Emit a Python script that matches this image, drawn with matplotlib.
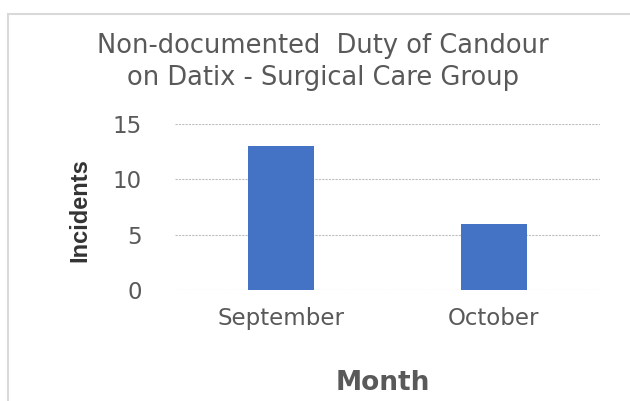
import matplotlib
matplotlib.use("Agg")
import matplotlib.pyplot as plt
from matplotlib.patches import Rectangle

months = ["September", "October"]
incidents = [13, 6]
yticks = [0, 5, 10, 15]
title = "Non-documented  Duty of Candour\non Datix - Surgical Care Group"

plt.rcParams['font.family'] = ['DejaVu Sans']
gray = "#595959"

fig = plt.figure(figsize=(6.30, 4.01), dpi=100)
fig.patch.set_facecolor("white")
fig.add_artist(Rectangle((8/630, -0.1), 1.0, (1 - 14/401) + 0.1, transform=fig.transFigure,
                         fill=False, edgecolor="#d9d9d9", linewidth=1.5))

ax = fig.add_axes([175/630, 1 - 290/401, 425/630, 166/401])
x = list(range(len(months)))
ax.bar(x, incidents, width=0.31, color="#4472c4", zorder=3)
ax.set_xlim(-0.5, len(months) - 0.5)
ax.set_ylim(0, 15)
ax.set_yticks(yticks)
ax.set_yticklabels([str(v) for v in yticks])
ax.set_xticks(x)
ax.set_xticklabels(months)
for s in ax.spines.values():
    s.set_visible(False)
ax.tick_params(length=0, labelsize=16.5, colors=gray)
ax.tick_params(axis='y', pad=24)
ax.tick_params(axis='x', pad=12)
ax.yaxis.grid(True, color="#bfbfbf", linestyle=(0, (2, 1)), linewidth=0.8, zorder=0)
ax.set_axisbelow(True)

fig.text(323/630, 1 - 62/401, title, ha="center", va="center", fontsize=18.5,
         color=gray, linespacing=1.3)
fig.text(80/630, 1 - 210/401, "Incidents", rotation=90, ha="center", va="center",
         fontsize=17, fontweight="bold", color="#333333", family="Liberation Sans")
fig.text(383/630, 1 - 383/401, "Month", ha="center", va="center", fontsize=19,
         fontweight="bold", color=gray)

fig.savefig("out.png", dpi=100)
